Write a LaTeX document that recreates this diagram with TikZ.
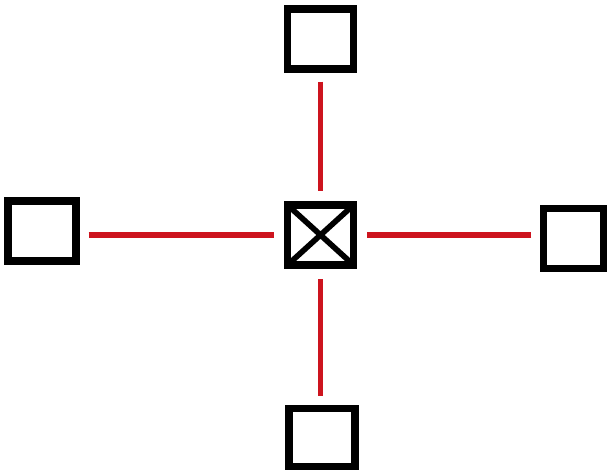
\documentclass[tikz,border=0pt]{standalone}
\definecolor{wire}{RGB}{205,20,30}

\begin{document}
\begin{tikzpicture}[x=0.02cm, y=-0.02cm,
	box/.style={draw, line width=4pt, minimum width=1.32cm, minimum height=1.2cm, inner sep=0pt},
	hub/.style={box, path picture={\draw[line width=3.2pt] (path picture bounding box.north west) -- (path picture bounding box.south east) (path picture bounding box.south west) -- (path picture bounding box.north east);}},
	link/.style={draw=wire, line width=3.2pt, shorten <=0.18cm, shorten >=0.2cm}]
	\useasboundingbox (0,0) rectangle (607,472);
	\node[hub] (C) at (320.5,235) {};
	\node[box] (T) at (320.5,39) {};
	\node[box, minimum width=1.36cm] (L) at (42,231) {};
	\node[box, minimum width=1.2cm] (R) at (573.5,238.5) {};
	\node[box, minimum height=1.17cm] (B) at (322,437.5) {};
	\draw[link] (T) -- (C);
	\draw[link] (L.east |- C.west) -- (C.west);
	\draw[link] (R.west |- C.east) -- (C.east);
	\draw[link] (C.south |- B.north) -- (C.south);
\end{tikzpicture}
\end{document}
